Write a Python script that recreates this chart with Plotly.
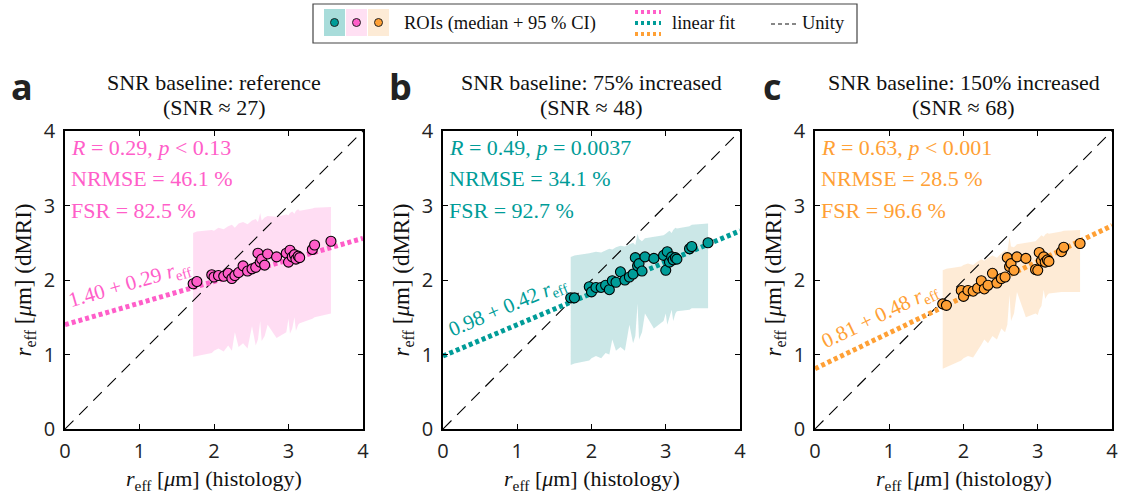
import math
import plotly.graph_objects as go

W, H = 1132, 498

# ROI medians: histology effective radius (shared across panels)
hist_r = [1.72, 1.77, 1.97, 2.00, 2.06, 2.13, 2.19, 2.24, 2.28, 2.33, 2.39, 2.45, 2.51, 2.56, 2.59, 2.62,
          2.64, 2.68, 2.72, 2.84, 2.97, 3.00, 3.02, 3.05, 3.08, 3.10, 3.13, 3.15, 3.32, 3.35, 3.57]

# dMRI medians per SNR scenario
dmri_ref = [1.95, 1.98, 2.07, 2.04, 2.06, 2.05, 2.09, 2.02, 2.06, 2.10, 2.19, 2.12, 2.15, 2.17, 2.36, 2.24,
            2.28, 2.20, 2.35, 2.31, 2.36, 2.24, 2.40, 2.31, 2.34, 2.28, 2.32, 2.30, 2.41, 2.47, 2.52]
dmri_75 = [1.76, 1.76, 1.91, 1.84, 1.90, 1.90, 1.93, 1.87, 1.99, 1.97, 2.11, 2.00, 2.04, 2.08, 2.30, 2.19,
           2.22, 2.12, 2.31, 2.29, 2.33, 2.13, 2.38, 2.24, 2.31, 2.27, 2.30, 2.28, 2.42, 2.45, 2.50]
dmri_150 = [1.68, 1.66, 1.86, 1.78, 1.86, 1.85, 1.89, 1.99, 1.88, 1.93, 2.09, 1.96, 2.02, 2.04, 2.30, 2.18,
            2.22, 2.13, 2.31, 2.29, 2.14, 2.13, 2.37, 2.26, 2.31, 2.24, 2.27, 2.25, 2.38, 2.44, 2.49]

# 95% CI bounds per scenario
ci_hi_ref = [2.63, 2.65, 2.67, 2.66, 2.70, 2.68, 2.72, 2.74, 2.70, 2.76, 2.78, 2.75, 2.80, 2.82, 2.78, 2.90,
             2.80, 2.84, 2.86, 2.85, 2.88, 2.87, 2.90, 2.92, 2.89, 2.93, 2.95, 2.93, 2.96, 2.97, 2.98]
ci_lo_ref = [0.97, 0.98, 1.02, 1.05, 1.08, 1.04, 1.12, 1.05, 1.30, 1.10, 1.15, 1.08, 1.38, 1.12, 1.20, 1.45,
             1.18, 1.25, 1.40, 1.22, 1.30, 1.48, 1.28, 1.35, 1.50, 1.32, 1.40, 1.42, 1.48, 1.50, 1.55]
ci_hi_75 = [2.31, 2.33, 2.36, 2.37, 2.38, 2.37, 2.40, 2.42, 2.41, 2.44, 2.46, 2.45, 2.48, 2.50, 2.47, 2.62,
            2.55, 2.52, 2.56, 2.58, 2.60, 2.62, 2.64, 2.66, 2.63, 2.67, 2.70, 2.69, 2.72, 2.74, 2.76]
ci_lo_75 = [0.86, 0.88, 0.92, 0.95, 0.98, 0.95, 1.02, 1.00, 1.20, 1.05, 1.10, 1.05, 1.40, 1.15, 1.25, 1.68,
            1.20, 1.30, 1.55, 1.35, 1.45, 1.55, 1.40, 1.50, 1.60, 1.45, 1.55, 1.58, 1.60, 1.62, 1.62]
ci_hi_150 = [2.13, 2.15, 2.18, 2.20, 2.22, 2.20, 2.25, 2.28, 2.26, 2.30, 2.33, 2.30, 2.36, 2.40, 2.38, 2.58,
             2.45, 2.44, 2.48, 2.50, 2.52, 2.55, 2.57, 2.60, 2.58, 2.61, 2.63, 2.62, 2.65, 2.66, 2.67]
ci_lo_150 = [0.81, 0.84, 0.92, 0.95, 0.98, 0.96, 1.05, 1.13, 1.20, 1.15, 1.25, 1.20, 1.35, 1.30, 1.40, 1.80,
             1.45, 1.55, 1.84, 1.50, 1.55, 1.53, 1.60, 1.65, 1.87, 1.75, 1.80, 1.82, 1.84, 1.84, 1.84]

# Linear fits (intercept, slope) and summary statistics
fit_intercepts = [1.40, 0.98, 0.81]
fit_slopes = [0.29, 0.42, 0.48]
stat_R = ["0.29", "0.49", "0.63"]
stat_p = ["&lt; 0.13", "= 0.0037", "&lt; 0.001"]
stat_nrmse = ["46.1", "34.1", "28.5"]
stat_fsr = ["82.5", "92.7", "96.6"]

titles = ["SNR baseline: reference", "SNR baseline: 75% increased", "SNR baseline: 150% increased"]
snr_values = ["27", "48", "68"]
panel_letters = ["a", "b", "c"]
ticks = [0, 1, 2, 3, 4]
x_title = "<i>r</i><sub>eff</sub> [<i>μ</i>m] (histology)"
y_title = "<i>r</i><sub>eff</sub> [<i>μ</i>m] (dMRI)"

colors = ["#FF5EC9", "#009C98", "#FFA035"]
band_colors = ["rgba(255,200,236,0.62)", "rgba(160,212,212,0.55)", "rgba(253,218,180,0.55)"]
legend_patch_colors = ["#A8DCDA", "#FFE0F3", "#FDEBD6"]
legend_dot_colors = ["#009C98", "#FF5EC9", "#FFA035"]

dmri = [dmri_ref, dmri_75, dmri_150]
ci_hi = [ci_hi_ref, ci_hi_75, ci_hi_150]
ci_lo = [ci_lo_ref, ci_lo_75, ci_lo_150]

SERIF = "Liberation Serif"
SANS = "Open Sans"

# Plot-area pixel boxes (left, right) and shared top/bottom
x_boxes = [(65, 363), (443, 740), (815, 1112)]
y_top, y_bot = 131, 429


def px(x):
    return x / W


def py(y):
    return 1 - y / H


fig = go.Figure()
annotations = []
shapes = []

for i in range(3):
    xa = "x" if i == 0 else f"x{i + 1}"
    ya = "y" if i == 0 else f"y{i + 1}"
    # CI band
    fig.add_trace(go.Scatter(
        x=hist_r + hist_r[::-1], y=ci_hi[i] + ci_lo[i][::-1],
        fill="toself", fillcolor=band_colors[i], line=dict(width=0),
        mode="lines", hoverinfo="skip", showlegend=False, xaxis=xa, yaxis=ya))
    # unity line
    fig.add_trace(go.Scatter(
        x=[0, 4], y=[0, 4], mode="lines",
        line=dict(color="black", width=1.1, dash="12px,8px"),
        showlegend=False, xaxis=xa, yaxis=ya))
    # linear fit
    fx = [0, 4]
    fy = [fit_intercepts[i] + fit_slopes[i] * v for v in fx]
    fig.add_trace(go.Scatter(
        x=fx, y=fy, mode="lines",
        line=dict(color=colors[i], width=5, dash="4px,3px"),
        showlegend=False, xaxis=xa, yaxis=ya))
    # ROI medians
    fig.add_trace(go.Scatter(
        x=hist_r, y=dmri[i], mode="markers",
        marker=dict(size=10, color=colors[i], line=dict(color="black", width=1.1)),
        showlegend=False, xaxis=xa, yaxis=ya))

    axis_common = dict(
        range=[0, 4], tickvals=ticks, ticks="inside", ticklen=5, tickwidth=1.2,
        tickcolor="black", showline=True, linecolor="black", linewidth=1.5,
        mirror="ticks", showgrid=False, zeroline=False, automargin=False,
        tickfont=dict(family=SANS, size=20, color="#222"))
    x0, x1 = x_boxes[i]
    fig.layout[f"xaxis{'' if i == 0 else i + 1}"] = dict(
        axis_common, domain=[px(x0), px(x1)], anchor=ya, ticklabelstandoff=3)
    fig.layout[f"yaxis{'' if i == 0 else i + 1}"] = dict(
        axis_common, domain=[py(y_bot), py(y_top)], anchor=xa, ticklabelstandoff=4,
        title=dict(text=y_title, font=dict(family=SERIF, size=23, color="#111"), standoff=6))

    cx = (x0 + x1) / 2
    annotations.append(dict(
        x=px(cx), y=py(495), xref="paper", yref="paper", showarrow=False,
        text=x_title, font=dict(family=SERIF, size=22, color="#111"),
        xanchor="center", yanchor="bottom", borderpad=0))
    annotations.append(dict(
        x=px(cx), y=py(83), xref="paper", yref="paper", showarrow=False,
        text=titles[i], font=dict(family=SERIF, size=22, color="#111"),
        xanchor="center", yanchor="middle"))
    annotations.append(dict(
        x=px(cx), y=py(107), xref="paper", yref="paper", showarrow=False,
        text=f"(SNR ≈ {snr_values[i]})", font=dict(family=SERIF, size=22, color="#111"),
        xanchor="center", yanchor="middle"))
    annotations.append(dict(
        x=px(x0 - 43), y=py(86), xref="paper", yref="paper", showarrow=False,
        text=f"<b>{panel_letters[i]}</b>", font=dict(family=SANS, size=36, color="#222"),
        xanchor="center", yanchor="middle"))

    stats = [f"<i>R</i> = {stat_R[i]}, <i>p</i> {stat_p[i]}",
             f"NRMSE = {stat_nrmse[i]} %",
             f"FSR = {stat_fsr[i]} %"]
    for text, yy in zip(stats, [148, 178, 211]):
        annotations.append(dict(
            x=px(x0 + 4), y=py(yy), xref="paper", yref="paper", showarrow=False,
            text=text, font=dict(family=SERIF, size=22, color=colors[i]),
            xanchor="left", yanchor="middle"))

    # fit equation along the line
    lx = 0.87
    ly = fit_intercepts[i] + fit_slopes[i] * lx + 0.29
    ang = math.degrees(math.atan(fit_slopes[i]))
    annotations.append(dict(
        x=lx, y=ly, xref=xa, yref=ya, showarrow=False,
        text=f"{fit_intercepts[i]:.2f} + {fit_slopes[i]:.2f} <i>r</i><sub>eff</sub>",
        font=dict(family=SERIF, size=21, color=colors[i]), textangle=-ang,
        xanchor="center", yanchor="middle"))

# Legend box
shapes.append(dict(type="rect", xref="paper", yref="paper",
                   x0=px(313), x1=px(857), y0=py(43), y1=py(4),
                   line=dict(color="#444", width=1.2), fillcolor="white", layer="above"))
for k, (c, dc) in enumerate(zip(legend_patch_colors, legend_dot_colors)):
    lx0 = 324 + k * 22
    shapes.append(dict(type="rect", xref="paper", yref="paper",
                       x0=px(lx0), x1=px(lx0 + 21), y0=py(36), y1=py(9),
                       line=dict(width=0), fillcolor=c, layer="above"))
    shapes.append(dict(type="circle", xref="paper", yref="paper",
                       x0=px(lx0 + 6.5), x1=px(lx0 + 14.5), y0=py(26.5), y1=py(18.5),
                       line=dict(color="#222", width=1), fillcolor=dc, layer="above"))
annotations.append(dict(x=px(402), y=py(23), xref="paper", yref="paper", showarrow=False,
                        text="ROIs (median + 95 % CI)", xanchor="left", yanchor="middle",
                        font=dict(family=SERIF, size=18.5, color="#111")))
for c, yy in zip(["#FF5EC9", "#009C98", "#FFA035"], [12, 23, 34]):
    shapes.append(dict(type="line", xref="paper", yref="paper",
                       x0=px(635), x1=px(661), y0=py(yy), y1=py(yy),
                       line=dict(color=c, width=4, dash="3px,3px"), layer="above"))
annotations.append(dict(x=px(670), y=py(23), xref="paper", yref="paper", showarrow=False,
                        text="linear fit", xanchor="left", yanchor="middle",
                        font=dict(family=SERIF, size=18.5, color="#111")))
shapes.append(dict(type="line", xref="paper", yref="paper",
                   x0=px(771), x1=px(796), y0=py(24), y1=py(24),
                   line=dict(color="#111", width=1.2, dash="4px,3px"), layer="above"))
annotations.append(dict(x=px(800), y=py(23), xref="paper", yref="paper", showarrow=False,
                        text="Unity", xanchor="left", yanchor="middle",
                        font=dict(family=SERIF, size=18.5, color="#111")))

fig.update_layout(
    width=W, height=H, margin=dict(l=0, r=0, t=0, b=0, autoexpand=False),
    paper_bgcolor="white", plot_bgcolor="white",
    annotations=annotations, shapes=shapes, showlegend=False)

fig.write_html("out.html", config={"displayModeBar": False})
